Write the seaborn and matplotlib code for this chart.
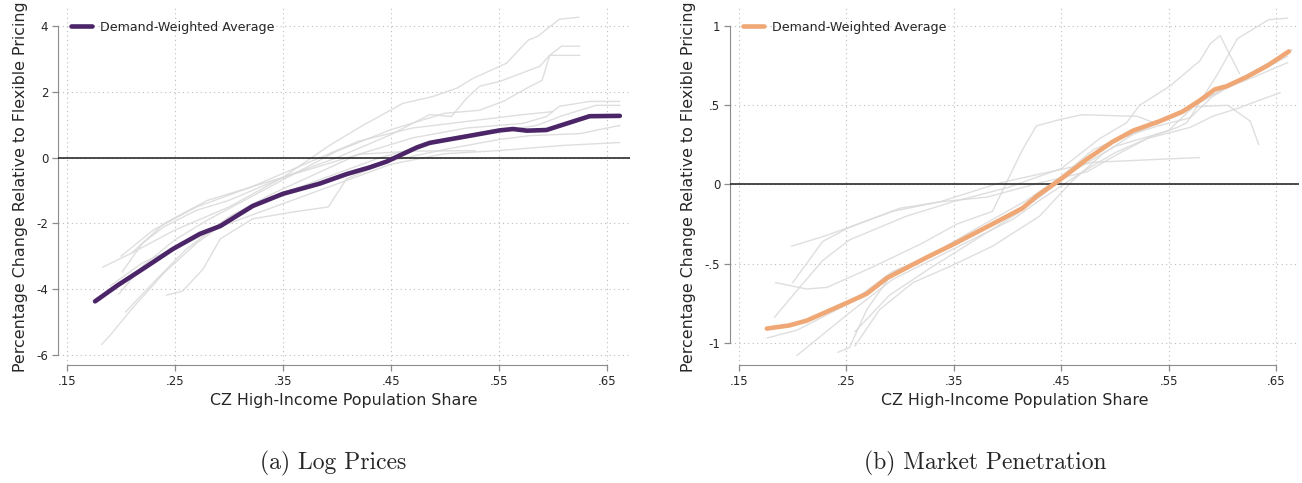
import matplotlib
matplotlib.use("Agg")
import matplotlib.pyplot as plt
import seaborn as sns
import pandas as pd

# Painel (a) - log prices: demand-weighted average
avg_a_x = [0.176, 0.197, 0.220, 0.248, 0.273, 0.292, 0.322, 0.350, 0.384, 0.409, 0.430,
           0.446, 0.474, 0.486, 0.517, 0.551, 0.563, 0.576, 0.594, 0.613, 0.634, 0.662]
avg_a_y = [-4.37, -3.88, -3.39, -2.78, -2.32, -2.08, -1.47, -1.10, -0.79, -0.50, -0.30,
           -0.12, 0.31, 0.45, 0.63, 0.83, 0.87, 0.82, 0.84, 1.04, 1.26, 1.27]

# Painel (a) - linhas individuais (cinza)
lines_a = [
    [(0.183, -3.33), (0.21, -2.9), (0.25, -2.2), (0.30, -1.5), (0.35, -0.6), (0.393, 0.37), (0.424, 0.98),
     (0.461, 1.65), (0.489, 1.86), (0.511, 2.11), (0.526, 2.41), (0.557, 2.87), (0.577, 3.57), (0.586, 3.69),
     (0.606, 4.21), (0.624, 4.27)],
    [(0.201, -3.48), (0.22, -2.6), (0.24, -2.1), (0.27, -1.6), (0.30, -1.3), (0.35, -0.6), (0.40, 0.0),
     (0.45, 0.7), (0.486, 1.31), (0.506, 1.25), (0.520, 1.80), (0.532, 2.17), (0.551, 2.32), (0.588, 2.78),
     (0.597, 3.11), (0.608, 3.39), (0.625, 3.39)],
    [(0.198, -4.15), (0.22, -3.3), (0.25, -2.5), (0.28, -1.9), (0.32, -1.2), (0.36, -0.5), (0.40, 0.2),
     (0.45, 0.85), (0.50, 1.35), (0.532, 1.44), (0.554, 1.71), (0.579, 2.17), (0.590, 2.35), (0.597, 3.11),
     (0.625, 3.11)],
    [(0.204, -4.70), (0.23, -3.8), (0.26, -2.8), (0.30, -1.8), (0.34, -1.1), (0.38, -0.5), (0.42, 0.1),
     (0.47, 0.6), (0.52, 0.9), (0.572, 1.04), (0.594, 1.25), (0.606, 1.56), (0.634, 1.71), (0.662, 1.71)],
    [(0.182, -5.68), (0.19, -5.4), (0.21, -4.6), (0.24, -3.5), (0.27, -2.6), (0.30, -1.9), (0.34, -1.2),
     (0.39, -0.6), (0.44, 0.0), (0.50, 0.55), (0.585, 0.98), (0.609, 1.28), (0.640, 1.59), (0.662, 1.59)],
    [(0.242, -4.18), (0.257, -4.06), (0.276, -3.39), (0.292, -2.47), (0.322, -1.86), (0.36, -1.65),
     (0.392, -1.50), (0.409, -0.64), (0.45, -0.1), (0.50, 0.25), (0.55, 0.55), (0.579, 0.67), (0.625, 0.73),
     (0.662, 0.98)],
    [(0.19, -3.9), (0.22, -3.2), (0.26, -2.6), (0.30, -2.0), (0.35, -1.4), (0.40, -0.8), (0.45, -0.2),
     (0.50, 0.12), (0.548, 0.21), (0.609, 0.37), (0.662, 0.46)],
    [(0.20, -3.0), (0.23, -2.2), (0.27, -1.5), (0.32, -0.9), (0.37, -0.4), (0.42, 0.1), (0.47, 0.2),
     (0.528, 0.21)],
    [(0.21, -2.9), (0.24, -2.0), (0.28, -1.3), (0.32, -0.9), (0.37, -0.2), (0.42, 0.5), (0.47, 0.9),
     (0.52, 1.1), (0.57, 1.3), (0.60, 1.4)],
]

# Painel (b) - market penetration: demand-weighted average
avg_b_x = [0.176, 0.197, 0.213, 0.253, 0.269, 0.288, 0.325, 0.349, 0.386, 0.414, 0.428, 0.449, 0.474,
           0.498, 0.517, 0.542, 0.563, 0.579, 0.593, 0.604, 0.623, 0.642, 0.662]
avg_b_y = [-0.91, -0.89, -0.86, -0.74, -0.69, -0.59, -0.46, -0.38, -0.25, -0.15, -0.07, 0.03, 0.16,
           0.27, 0.34, 0.40, 0.46, 0.53, 0.60, 0.62, 0.68, 0.75, 0.84]

lines_b = [
    [(0.199, -0.39), (0.228, -0.33), (0.253, -0.27), (0.293, -0.17), (0.337, -0.11), (0.381, -0.08),
     (0.430, 0.01), (0.474, 0.08), (0.505, 0.20), (0.533, 0.30), (0.558, 0.36), (0.567, 0.39), (0.595, 0.69),
     (0.614, 0.92), (0.643, 1.04), (0.661, 1.05)],
    [(0.200, -0.62), (0.228, -0.36), (0.253, -0.27), (0.300, -0.15), (0.337, -0.11), (0.393, 0.01),
     (0.480, 0.14), (0.579, 0.17)],
    [(0.184, -0.62), (0.213, -0.66), (0.232, -0.65), (0.275, -0.52), (0.321, -0.37), (0.353, -0.25),
     (0.386, -0.17), (0.414, 0.22), (0.427, 0.37), (0.449, 0.41), (0.469, 0.44), (0.521, 0.43), (0.540, 0.38)],
    [(0.183, -0.84), (0.204, -0.67), (0.228, -0.48), (0.253, -0.35), (0.306, -0.20), (0.349, -0.11),
     (0.40, -0.02), (0.45, 0.10), (0.486, 0.29), (0.511, 0.39), (0.523, 0.50), (0.551, 0.62), (0.579, 0.78),
     (0.589, 0.89), (0.598, 0.94), (0.616, 0.70)],
    [(0.176, -0.97), (0.204, -0.92), (0.253, -0.75), (0.293, -0.55), (0.349, -0.39), (0.405, -0.19),
     (0.430, -0.08), (0.46, 0.08), (0.50, 0.24), (0.53, 0.30), (0.55, 0.34), (0.573, 0.49), (0.605, 0.50),
     (0.626, 0.40), (0.634, 0.25)],
    [(0.204, -1.08), (0.253, -0.81), (0.293, -0.60), (0.349, -0.41), (0.405, -0.22), (0.430, -0.10),
     (0.47, 0.08), (0.50, 0.20), (0.530, 0.29), (0.570, 0.36), (0.591, 0.43), (0.614, 0.48), (0.654, 0.58)],
    [(0.242, -1.06), (0.253, -1.03), (0.269, -0.79), (0.293, -0.56), (0.325, -0.46), (0.368, -0.29),
     (0.418, -0.10), (0.45, 0.05), (0.48, 0.22), (0.52, 0.34), (0.56, 0.45), (0.60, 0.60), (0.63, 0.68),
     (0.661, 0.77)],
    [(0.258, -1.02), (0.281, -0.79), (0.312, -0.62), (0.349, -0.51), (0.386, -0.39), (0.430, -0.20),
     (0.46, 0.02), (0.49, 0.20), (0.52, 0.33), (0.56, 0.44), (0.59, 0.56), (0.62, 0.66), (0.661, 0.81)],
    [(0.258, -0.93), (0.29, -0.70), (0.33, -0.52), (0.37, -0.35), (0.41, -0.18), (0.44, -0.02),
     (0.47, 0.15), (0.50, 0.28), (0.54, 0.37), (0.57, 0.42), (0.59, 0.55), (0.62, 0.68), (0.665, 0.85)],
]

x_ticks = [0.15, 0.25, 0.35, 0.45, 0.55, 0.65]
x_labels = [".15", ".25", ".35", ".45", ".55", ".65"]
y_ticks_a = [-6, -4, -2, 0, 2, 4]
y_labels_a = ["-6", "-4", "-2", "0", "2", "4"]
y_ticks_b = [-1, -0.5, 0, 0.5, 1]
y_labels_b = ["-1", "-.5", "0", ".5", "1"]

sns.set_style("white")
plt.rcParams["font.family"] = ["DejaVu Sans"]

fig = plt.figure(figsize=(13.02, 4.83), dpi=100)
W, H = 1302, 483
ax_a = fig.add_axes([58 / W, 1 - 365 / H, 572 / W, 357 / H])
ax_b = fig.add_axes([730 / W, 1 - 365 / H, 569 / W, 357 / H])

GREY = "#d9d9d9"
SPINE = "#8c8c8c"


def desenha(ax, linhas, ax_x, ax_y, cor, yt, yl, ylim):
    for pts in linhas:
        df = pd.DataFrame(pts, columns=["x", "y"])
        sns.lineplot(data=df, x="x", y="y", ax=ax, color=GREY, lw=1.0, sort=False, alpha=0.85)
    ax.axhline(0, color="#1a1a1a", lw=1.1, zorder=3)
    sns.lineplot(x=ax_x, y=ax_y, ax=ax, color=cor, lw=3.3, sort=False, zorder=4,
                 label="Demand-Weighted Average")
    ax.set_xlim(0.1417, 0.6714)
    ax.set_ylim(*ylim)
    ax.set_xticks(x_ticks)
    ax.set_xticklabels(x_labels, fontsize=8.5)
    ax.set_yticks(yt)
    ax.set_yticklabels(yl, fontsize=8.5)
    ax.grid(True, ls=(0, (1, 3)), color="#bdbdbd", lw=0.8)
    for s in ["top", "right"]:
        ax.spines[s].set_visible(False)
    ax.spines["left"].set_bounds(yt[0], yt[-1])
    ax.spines["bottom"].set_bounds(x_ticks[0], x_ticks[-1])
    ax.spines["left"].set_color(SPINE)
    ax.spines["bottom"].set_color(SPINE)
    ax.tick_params(axis="both", length=4, width=0.9, color=SPINE, direction="out",
                   bottom=True, left=True, pad=3)
    ax.set_xlabel("CZ High-Income Population Share", fontsize=11.4, labelpad=4)
    ax.set_ylabel("Percentage Change Relative to Flexible Pricing", fontsize=11.4, labelpad=6)
    ax.legend(loc="upper left", frameon=False, fontsize=9.1, handlelength=1.7, handletextpad=0.6,
              bbox_to_anchor=(0.0, 1.0), borderaxespad=0.6)


desenha(ax_a, lines_a, avg_a_x, avg_a_y, "#4b2568", y_ticks_a, y_labels_a, (-6.305, 4.55))
desenha(ax_b, lines_b, avg_b_x, avg_b_y, "#efa875", y_ticks_b, y_labels_b, (-1.14, 1.114))

fig.text(333 / W, 1 - 463 / H, "(a) Log Prices", ha="center", va="center",
         fontsize=17, family="cmr10")
fig.text(985 / W, 1 - 463 / H, "(b) Market Penetration", ha="center", va="center",
         fontsize=17, family="cmr10")

fig.savefig("out.png", dpi=100)
